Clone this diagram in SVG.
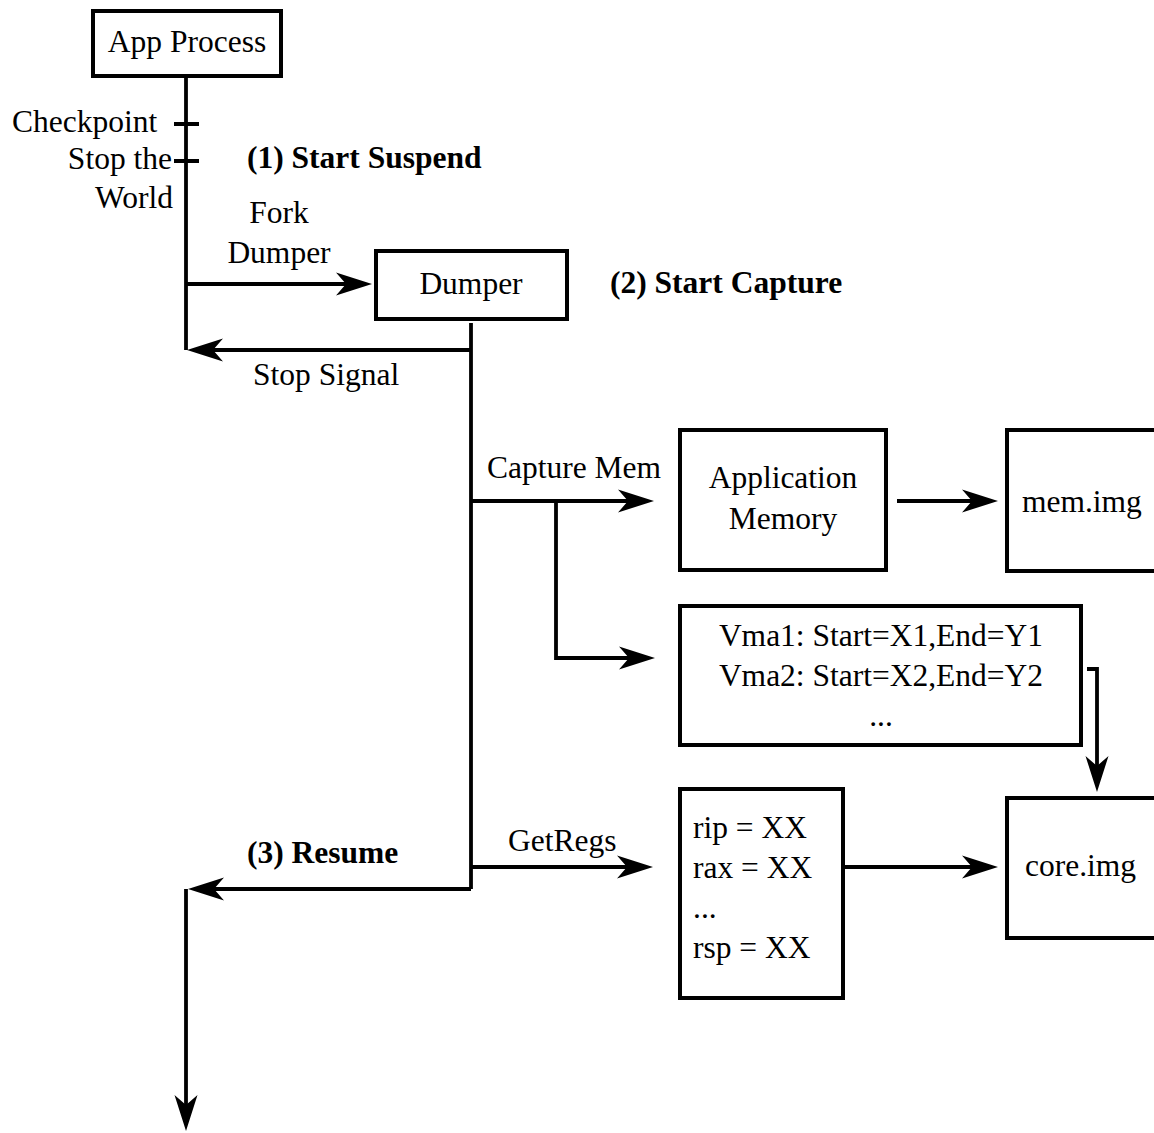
<svg xmlns="http://www.w3.org/2000/svg" width="1154" height="1133" viewBox="0 0 1154 1133">
  <style>
    .box { fill: #ffffff; stroke: #000000; stroke-width: 4; }
    .wire { fill: none; stroke: #000000; stroke-width: 3.8; }
    .arr { marker-end: url(#head); }
    text { font-family: "Liberation Serif", "Times New Roman", serif; font-size: 31.5px; fill: #000000; }
    .c { text-anchor: middle; }
    .e { text-anchor: end; }
    .b { font-weight: bold; }
  </style>
  <defs>
    <marker id="head" markerUnits="userSpaceOnUse" markerWidth="40" markerHeight="26" refX="26" refY="12" orient="auto" overflow="visible">
      <path d="M36,12 L0,0.5 L10,12 L0,23.5 Z" fill="#000000"/>
    </marker>
  </defs>
  <rect width="1154" height="1133" fill="#ffffff"/>

  <!-- connectors -->
  <g id="connectors">
    <path class="wire" d="M186,77 V350"/>
    <path class="wire" d="M174,124 H199 M174,161 H199"/>
    <path class="wire arr" d="M186,284 H362"/>
    <path class="wire" d="M471,323 V889"/>
    <path class="wire arr" d="M471,350 H197"/>
    <path class="wire arr" d="M471,501 H644"/>
    <path class="wire arr" d="M556,501 V658 H645"/>
    <path class="wire arr" d="M897,501 H988"/>
    <path class="wire arr" d="M1087,669 H1097 V782"/>
    <path class="wire arr" d="M471,867 H643"/>
    <path class="wire arr" d="M471,889 H198"/>
    <path class="wire arr" d="M186,889 V1121"/>
    <path class="wire arr" d="M843,867 H988"/>
  </g>

  <!-- free labels -->
  <g id="labels">
    <text x="12" y="132">Checkpoint</text>
    <text class="e" x="172" y="169">Stop the</text>
    <text class="e" x="173" y="208">World</text>
    <text class="b" x="247" y="168">(1) Start Suspend</text>
    <text class="c" x="279" y="223">Fork</text>
    <text class="c" x="279" y="263">Dumper</text>
    <text class="b" x="610" y="293">(2) Start Capture</text>
    <text x="253" y="385">Stop Signal</text>
    <text x="487" y="478">Capture Mem</text>
    <text x="508" y="851">GetRegs</text>
    <text class="b" x="247" y="863">(3) Resume</text>
  </g>

  <g id="app-process">
    <rect class="box" x="93" y="11" width="188" height="65"/>
    <text class="c" x="187" y="52">App Process</text>
  </g>

  <g id="dumper">
    <rect class="box" x="376" y="251" width="191" height="68"/>
    <text class="c" x="471" y="294">Dumper</text>
  </g>

  <g id="app-memory">
    <rect class="box" x="680" y="430" width="206" height="140"/>
    <text class="c" x="783" y="488">Application</text>
    <text class="c" x="783" y="529">Memory</text>
  </g>

  <g id="mem-img">
    <rect class="box" x="1007" y="430" width="170" height="141"/>
    <text x="1022" y="512">mem.img</text>
  </g>

  <g id="vma-list">
    <rect class="box" x="680" y="606" width="401" height="139"/>
    <text class="c" x="881" y="646">Vma1: Start=X1,End=Y1</text>
    <text class="c" x="881" y="686">Vma2: Start=X2,End=Y2</text>
    <text class="c" x="881" y="726">...</text>
  </g>

  <g id="registers">
    <rect class="box" x="680" y="789" width="163" height="209"/>
    <text x="693" y="838">rip = XX</text>
    <text x="693" y="878">rax = XX</text>
    <text x="693" y="918">...</text>
    <text x="693" y="958">rsp = XX</text>
  </g>

  <g id="core-img">
    <rect class="box" x="1007" y="798" width="170" height="140"/>
    <text x="1025" y="876">core.img</text>
  </g>
</svg>
